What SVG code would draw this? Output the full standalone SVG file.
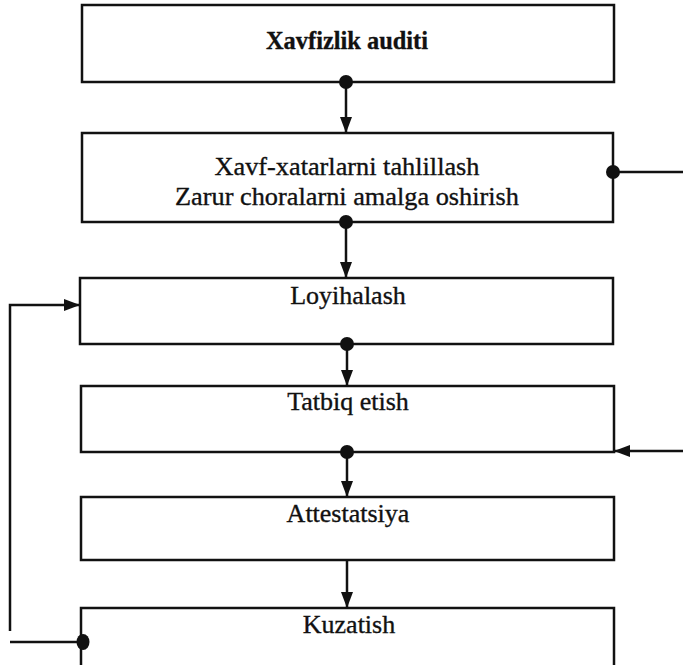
<svg xmlns="http://www.w3.org/2000/svg" width="683" height="665" viewBox="0 0 683 665">
  <style>
    .box { fill: #fff; stroke: #111; stroke-width: 2.5; }
    .lbl { font-family: "Liberation Serif", "Times New Roman", serif; font-size: 26px; fill: #111; stroke: #111; stroke-width: 0.35; text-anchor: middle; }
    .wire { fill: none; stroke: #111; stroke-width: 2.5; }
    .dot { fill: #111; }
  </style>
  <defs>
    <marker id="arrow" viewBox="0 0 16 12" refX="16" refY="6" markerWidth="16" markerHeight="12" markerUnits="userSpaceOnUse" orient="auto">
      <path d="M0,0 L16,6 L0,12 Z" fill="#111"/>
    </marker>
  </defs>

  <g id="node-audit">
    <rect class="box" x="82" y="5" width="532" height="77"/>
    <text class="lbl" x="347" y="49" font-size="24" font-weight="bold" textLength="162" lengthAdjust="spacingAndGlyphs">Xavfizlik auditi</text>
  </g>
  <g id="node-analysis">
    <rect class="box" x="82" y="133" width="531" height="89"/>
    <text class="lbl" x="347" y="175" textLength="265" lengthAdjust="spacingAndGlyphs">Xavf-xatarlarni tahlillash</text>
    <text class="lbl" x="347" y="205" textLength="344" lengthAdjust="spacingAndGlyphs">Zarur choralarni amalga oshirish</text>
  </g>
  <g id="node-design">
    <rect class="box" x="80" y="278" width="533" height="66"/>
    <text class="lbl" x="348" y="304">Loyihalash</text>
  </g>
  <g id="node-implement">
    <rect class="box" x="81" y="386" width="533" height="66"/>
    <text class="lbl" x="348" y="410">Tatbiq etish</text>
  </g>
  <g id="node-attestation">
    <rect class="box" x="81" y="497" width="533" height="63"/>
    <text class="lbl" x="348" y="522">Attestatsiya</text>
  </g>
  <g id="node-monitoring">
    <rect class="box" x="81" y="608" width="533" height="80"/>
    <text class="lbl" x="349" y="633">Kuzatish</text>
  </g>

  <g id="connectors">
    <!-- main vertical flow -->
    <line class="wire" x1="346" y1="82" x2="346" y2="133" marker-end="url(#arrow)"/>
    <circle class="dot" cx="346" cy="82" r="7"/>
    <line class="wire" x1="346" y1="222" x2="346" y2="278" marker-end="url(#arrow)"/>
    <circle class="dot" cx="346" cy="222" r="7"/>
    <line class="wire" x1="347" y1="344" x2="347" y2="386" marker-end="url(#arrow)"/>
    <circle class="dot" cx="347" cy="344" r="7"/>
    <line class="wire" x1="347" y1="452" x2="347" y2="497" marker-end="url(#arrow)"/>
    <circle class="dot" cx="347" cy="452" r="7"/>
    <line class="wire" x1="347" y1="560" x2="347" y2="608" marker-end="url(#arrow)"/>

    <!-- side links -->
    <line class="wire" x1="613" y1="172" x2="683" y2="172"/>
    <circle class="dot" cx="613" cy="172" r="7"/>
    <line class="wire" x1="683" y1="451" x2="614" y2="451" marker-end="url(#arrow)"/>

    <!-- feedback loop on the left -->
    <path class="wire" d="M10,631 V305 H80" marker-end="url(#arrow)"/>
    <line class="wire" x1="10" y1="642" x2="83" y2="642"/>
    <ellipse class="dot" cx="83" cy="642" rx="6.5" ry="8"/>
  </g>
</svg>
